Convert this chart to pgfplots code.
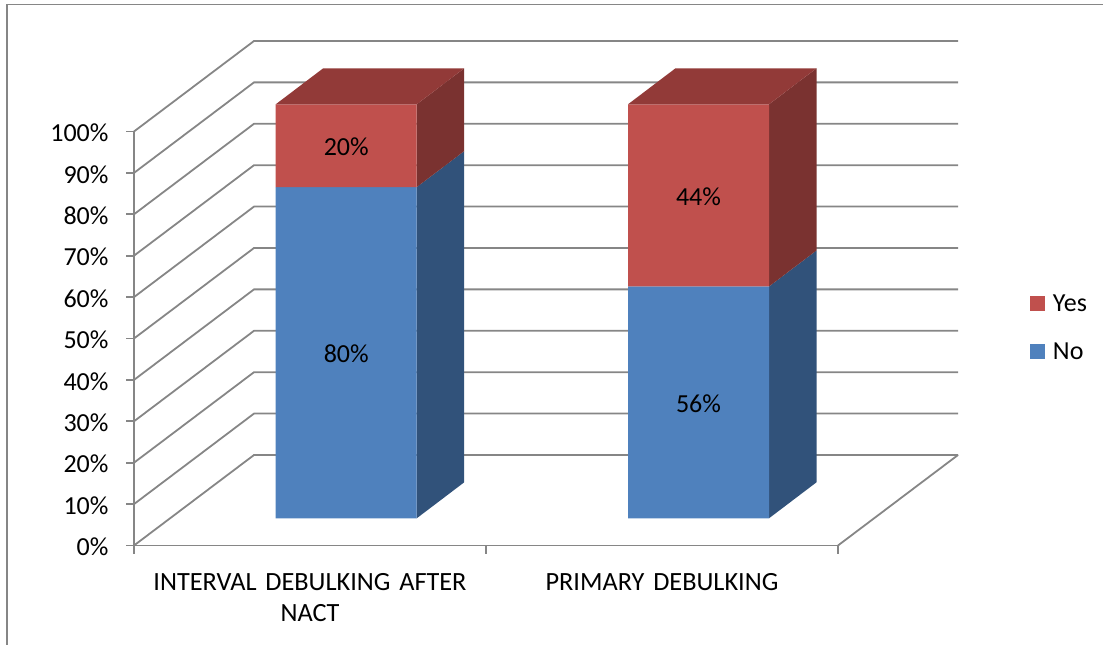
\documentclass[border=0pt]{standalone}
\usepackage{fontspec}
\setmainfont{Carlito}
\usepackage{pgfplots}
\pgfplotsset{compat=1.18}

\definecolor{gridgray}{HTML}{868686}
\definecolor{nofront}{HTML}{4F81BD}
\definecolor{noside}{HTML}{31527A}
\definecolor{yesfront}{HTML}{C0504D}
\definecolor{yesside}{HTML}{7A3230}
\definecolor{yestop}{HTML}{923A38}

% Depth of the floor and of the bars, in axis units
\def\wallx{0.3409}\def\wally{21.86}
\def\barx{0.135}\def\bary{8.7}
\def\barw{0.4006}\def\barbase{6.57}

% One stacked segment: left edge, start value, segment value, front colour, side colour
\newcommand\segment[5]{%
  \pgfmathsetmacro\xa{#1}%
  \pgfmathsetmacro\xb{#1+\barw}%
  \pgfmathsetmacro\xc{#1+\barw+\barx}%
  \pgfmathsetmacro\ya{\barbase+#2}%
  \pgfmathsetmacro\yb{\barbase+#2+#3}%
  \pgfmathsetmacro\yc{\barbase+#2+\bary}%
  \pgfmathsetmacro\yd{\barbase+#2+#3+\bary}%
  \pgfmathsetmacro\xm{#1+\barw/2}%
  \pgfmathsetmacro\ym{\barbase+#2+#3/2}%
  \edef\tmp{%
    \noexpand\addplot[fill=#5,draw=none,forget plot] coordinates {(\xb,\ya) (\xc,\yc) (\xc,\yd) (\xb,\yb) (\xb,\ya)};
    \noexpand\addplot[fill=#4,draw=none,forget plot] coordinates {(\xa,\ya) (\xb,\ya) (\xb,\yb) (\xa,\yb) (\xa,\ya)};
    \noexpand\node[font=\noexpand\labelfont,anchor=center,yshift=-1.5pt] at (axis cs:\xm,\ym) {#3\noexpand\%};
  }\tmp
}
% Top face of a stack
\newcommand\topface[3]{%
  \pgfmathsetmacro\xa{#1}%
  \pgfmathsetmacro\xb{#1+\barw}%
  \pgfmathsetmacro\xc{#1+\barw+\barx}%
  \pgfmathsetmacro\xd{#1+\barx}%
  \pgfmathsetmacro\ya{\barbase+#2}%
  \pgfmathsetmacro\yb{\barbase+#2+\bary}%
  \edef\tmp{\noexpand\addplot[fill=#3,draw=none,forget plot] coordinates {(\xa,\ya) (\xb,\ya) (\xc,\yb) (\xd,\yb) (\xa,\ya)};}\tmp
}
\newcommand\labelfont{\fontsize{26}{31.5}\selectfont}
\newcommand\catfont{\fontsize{26.3}{31.5}\selectfont}

\begin{document}
\begin{tikzpicture}[x=1pt,y=1pt]
\useasboundingbox (-134,-99.5) rectangle (969,545.5);
% Outer chart frame, open at the right and the bottom
\draw[gridgray,line width=1.8pt] (-127,-99.5) -- (-127,541) -- (969,541);
\begin{axis}[
  at={(0,0)},anchor=south west,
  scale only axis,width=704pt,height=414pt,
  xmin=0,xmax=2,ymin=0,ymax=100,
  clip=false,
  axis x line=bottom,axis y line=left,
  axis line style={-,gridgray,line width=1.8pt},
  tick style={gridgray,line width=1.8pt},
  major tick length=8pt,
  tick align=outside,
  xtick={0,1,2},
  x tick label as interval,
  xticklabels={{INTERVAL DEBULKING AFTER\\NACT},{PRIMARY DEBULKING}},
  x tick label style={align=center,text width=340pt,font=\catfont,yshift=-16pt},
  ytick={0,10,...,100},
  yticklabel={\pgfmathprintnumber{\tick}\%},
  /pgf/number format/assume math mode=true,
  y tick label style={font=\labelfont,xshift=-14pt,yshift=-1.5pt},
  legend style={at={(1.2727,0.611)},anchor=north west,draw=none,fill=none,
    inner sep=0pt,outer sep=0pt,font=\labelfont,
    legend cell align=left,row sep=26pt,
    /tikz/every odd column/.append style={column sep=6pt}},
  legend image code/.code={\fill[#1] (0pt,-7.5pt) rectangle (15pt,7.5pt);},
]
% Side wall and back wall gridlines
\pgfplotsinvokeforeach{0,10,...,100}{
  \addplot[gridgray,line width=1.8pt,forget plot] coordinates {(0,#1) (0.3409,#1+21.86) (2.3409,#1+21.86)};
}
% Floor edge
\addplot[gridgray,line width=1.8pt,forget plot] coordinates {(2.3409,21.86) (2,0)};

% Stacks
\segment{0.4026}{0}{80}{nofront}{noside}
\segment{0.4026}{80}{20}{yesfront}{yesside}
\topface{0.4026}{100}{yestop}
\segment{1.4034}{0}{56}{nofront}{noside}
\segment{1.4034}{56}{44}{yesfront}{yesside}
\topface{1.4034}{100}{yestop}

\addlegendimage{fill=yesfront,draw=none}
\addlegendentry{Yes}
\addlegendimage{fill=nofront,draw=none}
\addlegendentry{No}
\end{axis}
\end{tikzpicture}
\end{document}
